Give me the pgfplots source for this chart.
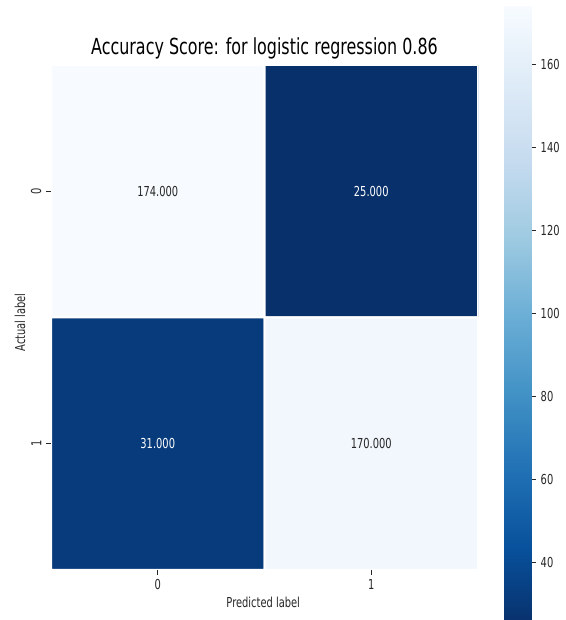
\documentclass[border=0pt]{standalone}
\usepackage{pgfplots}
\pgfplotsset{compat=1.18}
\usepackage{fontspec}
\setmainfont[FakeStretch=0.72]{DejaVu Sans}
\definecolor{txtgray}{HTML}{262626}
\pgfplotsset{colormap={bluesr}{rgb255=(8,48,107) rgb255=(8,81,156) rgb255=(33,113,181) rgb255=(66,146,198) rgb255=(107,174,214) rgb255=(158,202,225) rgb255=(198,219,239) rgb255=(222,235,247) rgb255=(247,251,255)}}
\pgfplotstableread{
x y c
0 1 174
1 1 25
0 0 31
1 0 170
}\cmdata
\begin{document}
\begin{tikzpicture}
\path[use as bounding box] (0,0) rectangle (423.75pt,465pt);
\begin{axis}[at={(38.25pt,37.5pt)}, anchor=south west, scale only axis,
  width=320.25pt, height=378.75pt,
  xmin=-0.5, xmax=1.5, ymin=-0.5, ymax=1.5,
  colormap name=bluesr, point meta min=25, point meta max=174,
  axis line style={draw=none},
  xtick={0,1}, xticklabels={0,1}, ytick={0,1}, yticklabels={1,0},
  xtick pos=bottom, ytick pos=left, tick align=outside,
  major tick length=3.75pt, tick style={txtgray, line width=0.6pt},
  ticklabel style={font=\fontsize{10.3}{12}\selectfont, text=txtgray},
  /pgf/number format/assume math mode=true,
  yticklabel style={rotate=90, anchor=south},
  xlabel={Predicted label}, ylabel={Actual label},
  xlabel style={at={(axis description cs:0.497,-0.065)}, anchor=center, font=\fontsize{10.3}{12}\selectfont, text=txtgray},
  ylabel style={at={(axis description cs:-0.0726,0.49)}, anchor=center, font=\fontsize{10.3}{12}\selectfont, text=txtgray},
  title={Accuracy Score: for logistic regression 0.86},
  title style={at={(axis description cs:0.5,1.018)}, anchor=center, font=\fontsize{16.6}{19}\selectfont, text=black},
]
\addplot[matrix plot*, mesh/cols=2, point meta=explicit, draw=white, line width=1.5pt] table[x=x, y=y, meta=c] {\cmdata};
\node[font=\fontsize{10.3}{12}\selectfont, text=txtgray] at (axis cs:0,1) {174.000};
\node[font=\fontsize{10.3}{12}\selectfont, text=white] at (axis cs:1,1) {25.000};
\node[font=\fontsize{10.3}{12}\selectfont, text=white] at (axis cs:0,0) {31.000};
\node[font=\fontsize{10.3}{12}\selectfont, text=txtgray] at (axis cs:1,0) {170.000};
\end{axis}
\begin{axis}[at={(378pt,-3.75pt)}, anchor=south west, scale only axis,
  width=20.25pt, height=464.25pt,
  xmin=0, xmax=1, ymin=25, ymax=174,
  axis line style={draw=none},
  xtick=\empty, ytick={40,60,...,160},
  ytick pos=right, tick align=outside,
  major tick length=3.75pt, tick style={txtgray, line width=0.6pt},
  yticklabel style={font=\fontsize{10.3}{12}\selectfont, text=txtgray, anchor=west},
  /pgf/number format/assume math mode=true,
  colormap name=bluesr, point meta min=25, point meta max=174,
]
\addplot[surf, shader=interp, mesh/rows=2, point meta=y] coordinates {(0,25) (1,25) (0,174) (1,174)};
\end{axis}
\end{tikzpicture}
\end{document}
